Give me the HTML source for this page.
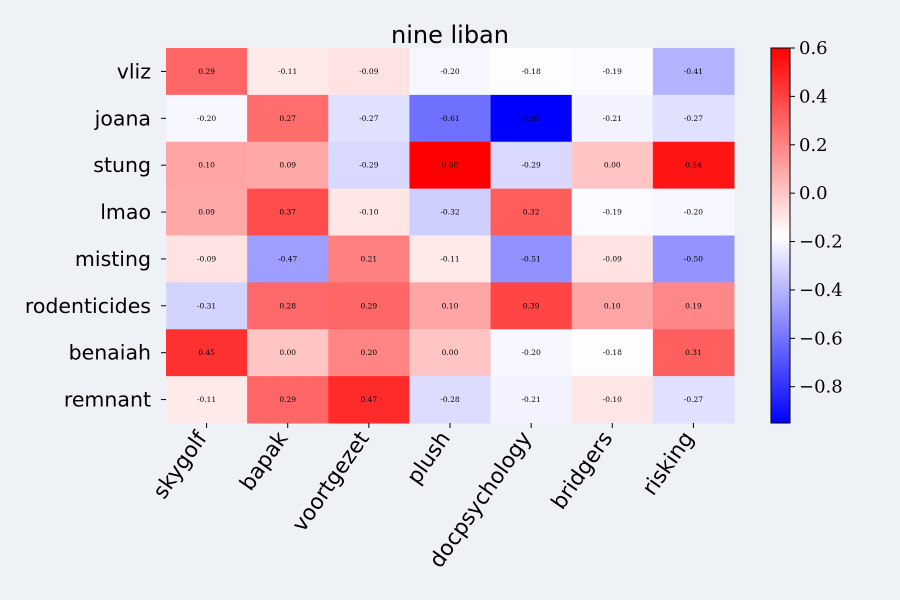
<!DOCTYPE html>
<html><head><meta charset="utf-8"><style>
body{margin:0;background:#eef1f5}
svg{display:block}
</style></head><body>
<svg id="chart" width="900" height="600">
<rect width="900" height="600" fill="#eef1f5"/>
<text x="450" y="43" text-anchor="middle" style="font-family:'DejaVu Sans',sans-serif;font-size:24px">nine liban</text>
</svg>
<script>
const rows=["vliz","joana","stung","lmao","misting","rodenticides","benaiah","remnant"];
const cols=["skygolf","bapak","voortgezet","plush","docpsychology","bridgers","risking"];
const r0=[0.29,-0.11,-0.09,-0.20,-0.18,-0.19,-0.41];
const r1=[-0.20,0.27,-0.27,-0.61,-0.95,-0.21,-0.27];
const r2=[0.10,0.09,-0.29,0.60,-0.29,0.00,0.54];
const r3=[0.09,0.37,-0.10,-0.32,0.32,-0.19,-0.20];
const r4=[-0.09,-0.47,0.21,-0.11,-0.51,-0.09,-0.50];
const r5=[-0.31,0.28,0.29,0.10,0.39,0.10,0.19];
const r6=[0.45,0.00,0.20,0.00,-0.20,-0.18,0.31];
const r7=[-0.11,0.29,0.47,-0.28,-0.21,-0.10,-0.27];
const values=[r0,r1,r2,r3,r4,r5,r6,r7];
const cbTicks=[0.6,0.4,0.2,0.0,-0.2,-0.4,-0.6,-0.8];
const vmin=-0.95,vmax=0.6;
const X0=166,X1=734,Y0=48,Y1=423;
const cw=(X1-X0)/cols.length,ch=(Y1-Y0)/rows.length;
const xs=i=>X0+i*cw, ys=j=>Y0+j*ch;
const CBX=771,CBW=19;
const cy=v=>Y0+(vmax-v)/(vmax-vmin)*(Y1-Y0);
function color(v){let t=(v-vmin)/(vmax-vmin);t=Math.max(0,Math.min(1,t));let r,g,b;
if(t<0.5){r=g=2*t;b=1}else{r=1;g=b=2*(1-t)}
return `rgb(${Math.round(r*255)},${Math.round(g*255)},${Math.round(b*255)})`;}
const svg=document.getElementById('chart');const NS="http://www.w3.org/2000/svg";
function mk(tag,attrs,parent){const e=document.createElementNS(NS,tag);for(const k in attrs)e.setAttribute(k,attrs[k]);(parent||svg).appendChild(e);return e;}
const SANS="font-family:'DejaVu Sans',sans-serif;font-size:20.5px";
const SANSX="font-family:'DejaVu Sans',sans-serif;font-size:21.5px";
const SERIF="font-family:'DejaVu Serif',serif;";
values.forEach((row,j)=>row.forEach((v,i)=>{
 const r=mk('rect',{x:xs(i),y:ys(j),width:cw+0.5,height:ch+0.5,fill:color(v)});
 
 
 const t=mk('text',{x:xs(i)+cw/2,y:ys(j)+ch/2+2.5,'text-anchor':'middle',style:SERIF+'font-size:7.5px',fill:'#000'});
 t.textContent=v.toFixed(2);
 
 
}));
rows.forEach((n,j)=>{const y=ys(j)+ch/2;
 const l=mk('line',{x1:X0-5,x2:X0,y1:y,y2:y,stroke:'#000','stroke-width':1});
 
 
 const t=mk('text',{x:X0-15,y:y+7,'text-anchor':'end',style:SANS});t.textContent=n;
 
 
});
cols.forEach((n,i)=>{const x=xs(i)+cw/2;
 const l=mk('line',{x1:x,x2:x,y1:Y1,y2:Y1+5,stroke:'#000','stroke-width':1});
 
 
 const ax=x+1,ay=Y1+15;
 const t=mk('text',{x:ax,y:ay,'text-anchor':'end',style:SANSX,transform:`rotate(-55 ${ax} ${ay})`});t.textContent=n;
 
 
});
const defs=mk('defs',{});const gr=mk('linearGradient',{id:'cbg',x1:0,y1:1,x2:0,y2:0},defs);
for(let k=0;k<=20;k++){const v=vmin+(vmax-vmin)*k/20;mk('stop',{offset:k/20,'stop-color':color(v)},gr);}
const cb=mk('rect',{x:CBX,y:Y0,width:CBW,height:Y1-Y0,fill:'url(#cbg)',stroke:'#000','stroke-width':1});


cbTicks.forEach(v=>{const y=cy(v);
 const l=mk('line',{x1:CBX+CBW,x2:CBX+CBW+5,y1:y,y2:y,stroke:'#000'});
 
 
 const t=mk('text',{x:CBX+CBW+9,y:y+6,style:SERIF+'font-size:18px'});
 t.textContent=(v<0?'\u2212':'')+Math.abs(v).toFixed(1);
 
 
});
</script>
</body></html>
